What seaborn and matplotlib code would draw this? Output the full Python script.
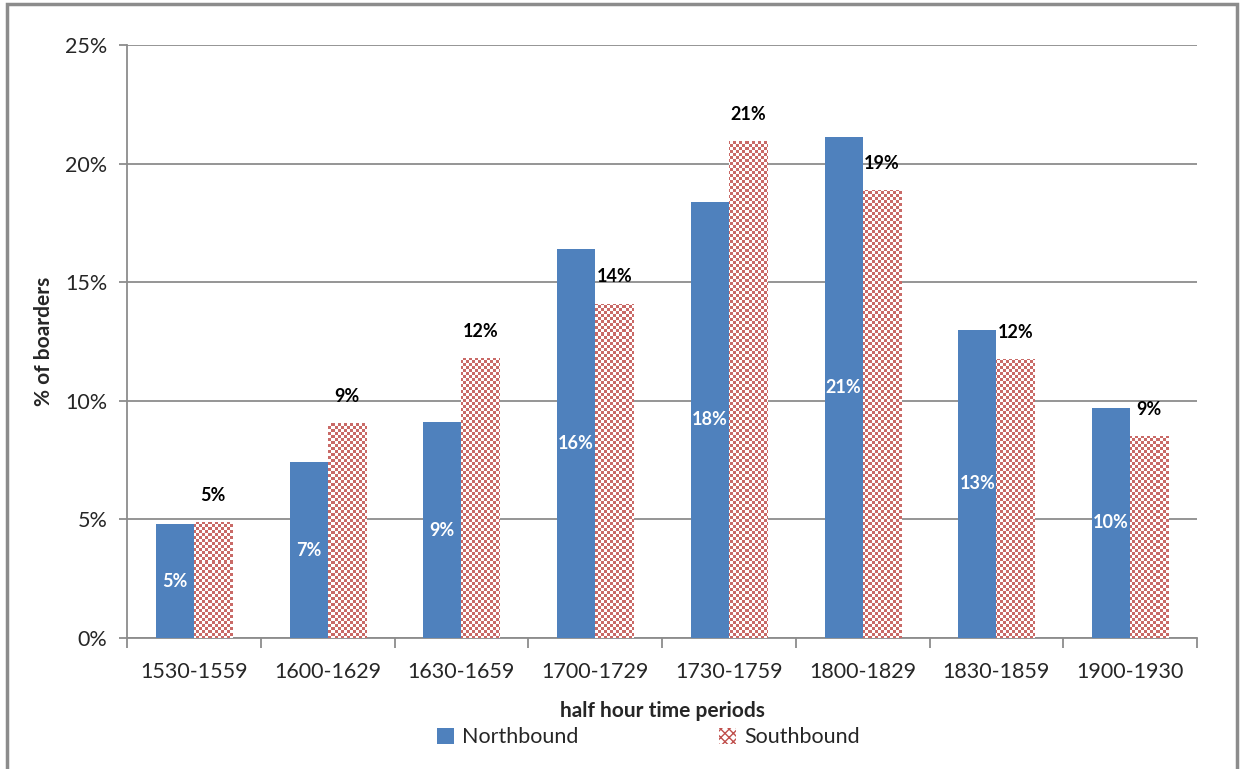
import matplotlib
matplotlib.use("Agg")
import matplotlib.pyplot as plt
from matplotlib.patches import Patch, Rectangle
from matplotlib.ticker import PercentFormatter
import seaborn as sns
import numpy as np
import pandas as pd

periods = ["1530-1559", "1600-1629", "1630-1659", "1700-1729",
           "1730-1759", "1800-1829", "1830-1859", "1900-1930"]
northbound = [4.8, 7.4, 9.1, 16.4, 18.4, 21.1, 13.0, 9.7]
southbound = [4.9, 9.05, 11.8, 14.1, 20.95, 18.9, 11.75, 8.5]
north_labels = ["5%", "7%", "9%", "16%", "18%", "21%", "13%", "10%"]
south_labels = ["5%", "9%", "12%", "14%", "21%", "19%", "12%", "9%"]

BLUE = "#4F81BD"
RED = "#C0504D"
GRID = "#8C8C8C"

df = pd.DataFrame({
    "period": periods * 2,
    "share": northbound + southbound,
    "dir": ["Northbound"] * len(periods) + ["Southbound"] * len(periods),
})

sns.set_theme(style="white")
plt.rcParams["font.family"] = ["Lato", "DejaVu Sans"]

fig = plt.figure(figsize=(12.42, 7.69), dpi=100)
ax = fig.add_axes([0.1023, 0.1704, 0.8615, 0.7711])

sns.barplot(data=df, x="period", y="share", hue="dir", order=periods,
            hue_order=["Northbound", "Southbound"],
            palette=[BLUE, "white"], width=0.57, gap=0, saturation=1,
            legend=False, ax=ax, zorder=3)

ax.set_ylim(0, 25)
ax.set_xlim(-0.5, len(periods) - 0.5)
ax.yaxis.set_major_formatter(PercentFormatter(decimals=0))
ax.set_yticks(np.arange(0, 26, 5))
ax.yaxis.grid(True, color=GRID, lw=1.3, zorder=0)
ax.set_axisbelow(True)
for s in ["top", "right"]:
    ax.spines[s].set_visible(False)
for s in ["left", "bottom"]:
    ax.spines[s].set_color(GRID)
    ax.spines[s].set_linewidth(1.3)

# x ticks at category boundaries, labels centred
ax.set_xticks(np.arange(-0.5, len(periods), 1), minor=False)
ax.set_xticklabels([])
ax.set_xticks(np.arange(len(periods)), minor=True)
ax.set_xticklabels(periods, minor=True, fontsize=15.5)
ax.tick_params(axis="x", which="major", length=7, width=1.3, color=GRID, direction="out", bottom=True)
ax.tick_params(axis="x", which="minor", length=0, pad=17)
ax.tick_params(axis="y", length=6, width=1.3, color=GRID, direction="out", left=True, labelsize=15.5, pad=8)

ax.set_xlabel("half hour time periods", fontsize=15, fontweight="bold", labelpad=14)
ax.set_ylabel("% of boarders", fontsize=15, fontweight="bold", labelpad=8)

# checkerboard fill for southbound bars
fig.canvas.draw()
bb = ax.get_window_extent()
w, h = int(round(bb.width)), int(round(bb.height))
yy, xx = np.mgrid[0:h, 0:w]
cell = 3
mask = ((xx // cell) + (yy // cell)) % 2 == 0
img = np.ones((h, w, 3))
red_rgb = np.array(matplotlib.colors.to_rgb(RED))
img[mask] = red_rgb * 0.85 + 0.15
south_bars = ax.containers[1]
for p in south_bars.patches:
    p.set_edgecolor("none")
    im = ax.imshow(img, extent=[-0.5, len(periods) - 0.5, 0, 25], aspect="auto",
                   interpolation="nearest", zorder=4, origin="upper")
    im.set_clip_path(p)
ax.set_xlim(-0.5, len(periods) - 0.5)
ax.set_ylim(0, 25)
for p in ax.containers[0].patches:
    p.set_edgecolor("none")

ax.bar_label(ax.containers[0], labels=north_labels, label_type="center",
             color="white", fontsize=13, fontweight="bold", zorder=6)
ax.bar_label(ax.containers[1], labels=south_labels, padding=13,
             color="black", fontsize=13, fontweight="bold", zorder=6)

handles = [Patch(facecolor=BLUE, edgecolor="none"),
           Patch(facecolor="white", edgecolor=RED, hatch="xxxx", lw=0)]
fig.legend(handles, ["Northbound", "Southbound"], loc="center",
           bbox_to_anchor=(0.522, 0.041), ncol=2, frameon=False, fontsize=15.5,
           columnspacing=6.5, handlelength=0.8, handleheight=0.8, handletextpad=0.4)

# outer chart frame
fig.patches.append(Rectangle((7 / 1242, -0.01), 1230 / 1242, 1 - 4 / 769 + 0.01,
                             transform=fig.transFigure, fill=False,
                             edgecolor=GRID, lw=2.5))

fig.savefig("out.png", dpi=100)
